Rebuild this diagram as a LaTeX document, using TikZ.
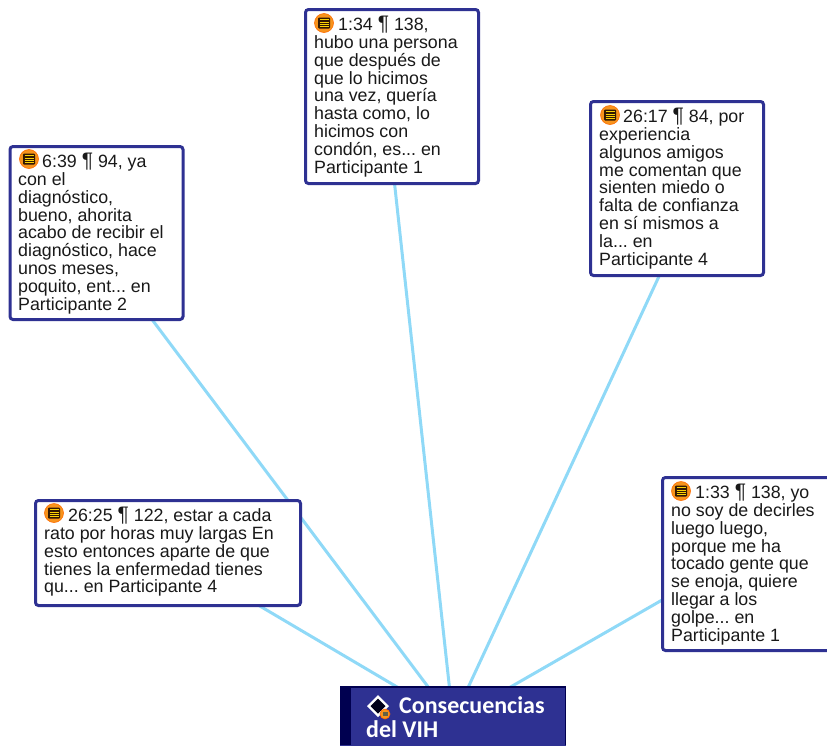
\documentclass[tikz,border=0pt]{standalone}
\usepackage{fontspec}
\setmainfont{Liberation Sans}
\newfontfamily\corefont{Carlito}
\usetikzlibrary{calc}
\definecolor{boxblue}{HTML}{2E3192}
\definecolor{darkstripe}{HTML}{000050}
\definecolor{linkblue}{HTML}{8FD9F7}
\definecolor{iconorange}{HTML}{F7941D}
\newcommand{\pilcrow}{{\fontsize{21pt}{17.8pt}\selectfont ¶}}
\tikzset{
  x=1pt,y=-1pt,
  quote/.style={draw=boxblue,line width=3pt,rounded corners=3pt,fill=white,minimum width=#1,inner sep=0pt},
  link/.style={draw=linkblue,line width=3pt},
  body/.style={font=\frenchspacing\fontsize{17.8pt}{17.8pt}\selectfont,align=left,anchor=north west,inner sep=0pt,text=black!90},
  noteicon/.pic={
    \fill[iconorange,draw=orange!85!red,line width=.6pt] (0,0) circle (9.5pt);
    \fill[black!80!orange,rounded corners=1pt] (-6,-5.5) rectangle (6,5.5);
    \foreach \yy in {-3.2,-1,1.2,3.4} \draw[yellow!70!orange,line width=.8pt] (-4.5,\yy) -- (4.5,\yy);
  }
}
\begin{document}
\begin{tikzpicture}
\useasboundingbox (0,0) rectangle (827,745);
\begin{scope}
\clip (0,0) rectangle (827,745);
\node[draw=boxblue,line width=1.5pt,fill=boxblue,minimum width=224.5pt,minimum height=66pt,inner sep=0pt] (core) at (453,720) {};
\coordinate (la) at (87,233);
\coordinate (lb) at (385,96);
\coordinate (lc) at (700,188);
\coordinate (ld) at (170,553);
\coordinate (le) at (744,553);
\draw[link] (core.center) -- (la);
\draw[link] (core.center) -- (lb);
\draw[link] (core.center) -- (lc);
\draw[link] (core.center) -- (ld);
\draw[link] (core.center) -- (le);
\node[quote=173pt,minimum height=173pt] (a) at (96.5,233) {};
\node[quote=173pt,minimum height=174pt] (b) at (392,96.5) {};
\node[quote=173pt,minimum height=174pt] (c) at (677,188.5) {};
\node[quote=265pt,minimum height=105pt] (d) at (168,553) {};
\node[quote=173pt,minimum height=173pt] (e) at (749,564) {};
\fill[boxblue] (core.north west) rectangle (core.south east);
\fill[darkstripe] (340,687) rectangle (351,745);
\draw[darkstripe,line width=1.5pt] (340,687) -- (565.5,687) -- (565.5,745);
\pic at (29,159) {noteicon};
\node[body] (ta) at (18,153) {\hspace*{24pt}6:39 \pilcrow{} 94, ya\\con el\\diagnóstico,\\bueno, ahorita\\acabo de recibir el\\diagnóstico, hace\\unos meses,\\poquito, ent... en\\Participante 2};
\pic at (324,23) {noteicon};
\node[body] (tb) at (314,16) {\hspace*{24pt}1:34 \pilcrow{} 138,\\hubo una persona\\que después de\\que lo hicimos\\una vez, quería\\hasta como, lo\\hicimos con\\condón, es... en\\Participante 1};
\pic at (610,115) {noteicon};
\node[body] (tc) at (599,108) {\hspace*{24pt}26:17 \pilcrow{} 84, por\\experiencia\\algunos amigos\\me comentan que\\sienten miedo o\\falta de confianza\\en sí mismos a\\la... en\\Participante 4};
\pic at (54,513) {noteicon};
\node[body] (td) at (44,507) {\hspace*{24pt}26:25 \pilcrow{} 122, estar a cada\\rato por horas muy largas En\\esto entonces aparte de que\\tienes la enfermedad tienes\\qu... en Participante 4};
\pic at (681,491) {noteicon};
\node[body] (te) at (671,484) {\hspace*{24pt}1:33 \pilcrow{} 138, yo\\no soy de decirles\\luego luego,\\porque me ha\\tocado gente que\\se enoja, quiere\\llegar a los\\golpe... en\\Participante 1};
\fill[white] (378,695) -- (389,706) -- (378,717) -- (367,706) -- cycle;
\fill[black!90!blue] (378,698.5) -- (385.5,706) -- (378,713.5) -- (370.5,706) -- cycle;
\fill[iconorange,draw=orange!80!red,line width=.6pt] (385,714) circle (5pt);
\fill[black!70!yellow] (382.5,711.5) rectangle (387.5,716);
\node[font=\corefont\bfseries\fontsize{24pt}{24pt}\selectfont,text=white,align=left,anchor=north west,inner sep=0pt] (tcore) at (366,696) {\hspace*{33pt}Consecuencias\\del VIH};
\end{scope}
\end{tikzpicture}
\end{document}
